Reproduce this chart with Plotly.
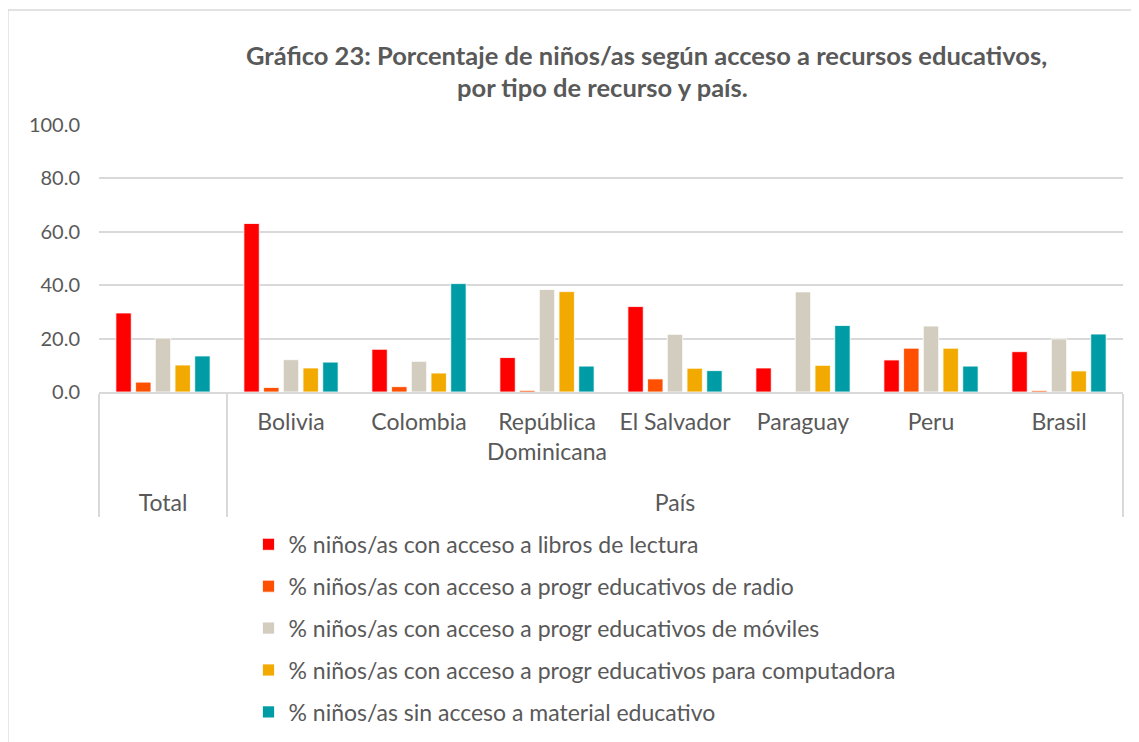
import plotly.graph_objects as go

# categories
grupos = ["Total", "País", "País", "País", "País", "País", "País", "País"]
paises = [" ", "Bolivia", "Colombia", "República<br>Dominicana<br> ", "El Salvador",
          "Paraguay", "Peru", "Brasil"]

# series values (%)
libros = [29.6, 63.1, 16.0, 12.9, 32.0, 9.0, 12.0, 15.1]
radio = [3.7, 1.7, 2.0, 0.6, 4.9, 0.0, 16.4, 0.5]
moviles = [20.2, 12.1, 11.5, 38.4, 21.6, 37.5, 24.7, 19.9]
computadora = [10.1, 9.0, 7.1, 37.6, 8.9, 10.0, 16.4, 7.9]
sin_acceso = [13.5, 11.2, 40.6, 9.7, 8.0, 24.9, 9.7, 21.7]

series = [
    ("% niños/as con acceso a libros de lectura", libros, "#FF0000"),
    ("% niños/as con acceso a progr educativos de radio", radio, "#FF4F00"),
    ("% niños/as con acceso a progr educativos de móviles", moviles, "#D3CDBF"),
    ("% niños/as con acceso a progr educativos para computadora", computadora, "#F2AA00"),
    ("% niños/as sin acceso a material educativo", sin_acceso, "#009CA6"),
]

TXT = "#595959"
GRID = "#D9D9D9"
FONT = "Lato, 'Open Sans', sans-serif"

fig = go.Figure()
for i, (name, vals, color) in enumerate(series):
    fig.add_trace(go.Bar(
        x=[grupos, paises], y=vals, name=name, legendgroup=str(i),
        marker=dict(color=color, line=dict(color="white", width=0.8)),
    ))

# the page puts the figure 8px in from the top-left corner, margins allow for it
fig.update_layout(
    width=1139, height=742,
    paper_bgcolor="white", plot_bgcolor="white",
    font=dict(family=FONT, color=TXT, size=22),
    margin=dict(l=91, r=24, t=117, b=358),
    barmode="group", bargap=0.23, bargroupgap=0.22,
    showlegend=True,
    legend=dict(x=0.146, xanchor="left", y=-0.49, yanchor="top",
                orientation="v", tracegroupgap=9,
                font=dict(size=23, color=TXT)),
)

fig.update_yaxes(range=[0, 100], dtick=20, tickformat=".1f",
                 showgrid=True, gridcolor=GRID, gridwidth=1.6,
                 zeroline=False, showline=False, ticks="",
                 ticklabelstandoff=18, tickfont=dict(size=20, color=TXT))
fig.update_xaxes(showline=True, linecolor=GRID, linewidth=2,
                 showdividers=True, dividercolor=GRID, dividerwidth=2,
                 ticklabelstandoff=8, tickfont=dict(size=23, color=TXT))

# title, two centred lines
fig.add_annotation(text="<b>Gráfico 23: Porcentaje de niños/as según acceso a recursos educativos,</b>",
                   xref="paper", yref="paper", x=0.535, y=1.262, showarrow=False,
                   xanchor="center", yanchor="middle", font=dict(size=25.5, color=TXT))
fig.add_annotation(text="<b>por tipo de recurso y país.</b>",
                   xref="paper", yref="paper", x=0.492, y=1.142, showarrow=False,
                   xanchor="center", yanchor="middle", font=dict(size=25.5, color=TXT))

# chart area border
fig.add_shape(type="rect", xref="paper", yref="paper",
              x0=-0.089, x1=1.2, y0=-1.5, y1=1.431,
              line=dict(color=GRID, width=1.5), fillcolor="rgba(0,0,0,0)", layer="below")

fig.write_html("out.html")
